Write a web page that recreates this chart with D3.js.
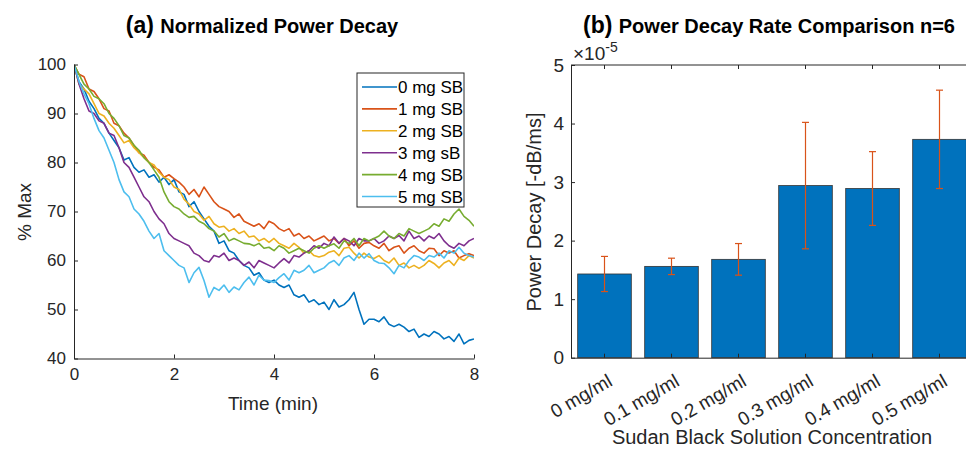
<!DOCTYPE html>
<html lang="en">
  <head>
    <meta charset="utf-8">
    <title>Power decay</title>
    <script src="https://cdn.jsdelivr.net/npm/d3@7"></script>
    <style>
      body { margin: 0; background: #fff; }
      svg { font-family: "Liberation Sans", Arial, sans-serif; }
      .axis path, .axis line { stroke: #262626; }
      .axis text { fill: #262626; }
    </style>
  </head>
  <body>
    <script>

      // ---- panel (a) data: % of max, one sample every 0.1 min
      var times = d3.range(81).map(function(i) { return i / 10; });
      var seriesNames = ["0 mg SB", "1 mg SB", "2 mg SB", "3 mg sB", "4 mg SB", "5 mg SB"];
      var seriesColors = ["#0072BD", "#D95319", "#EDB120", "#7E2F8E", "#77AC30", "#4DBEEE"];

      var sb0 = [100, 96.5, 95, 92.5, 91, 89, 88, 86, 84.5, 83,
                 80.5, 81, 79, 78, 78.5, 77, 77.5, 76, 77, 75.5,
                 76.5, 74, 73.5, 71, 72, 70, 68.5, 67, 66, 63.5,
                 64, 62, 61.5, 60, 59, 58.5, 57, 57.5, 56, 55.5,
                 56, 55, 54.5, 55, 53, 52.5, 53, 51.5, 52, 51,
                 51.5, 50, 52, 50.5, 51, 52, 53.5, 50, 47, 48,
                 48, 47.5, 48.5, 47, 46.5, 47, 46.4, 45.5, 46, 44.3,
                 45, 44.5, 45.5, 45, 44, 44.5, 43.5, 45, 43, 43.7,
                 44];
      var sb1 = [100, 98, 97.5, 95, 94.5, 93, 91, 90.5, 88, 87.5,
                 86, 85, 83.5, 82, 81.5, 80, 79, 78.5, 77, 77.5,
                 76.7, 76, 75, 73.5, 74.5, 73, 75, 73.5, 72, 71,
                 70.5, 70, 68.8, 69.5, 68, 67.5, 67, 67.5, 66.5, 68,
                 67.5, 66.5, 66, 66.5, 65, 65.5, 64.5, 65, 64, 64.5,
                 65, 64, 64.5, 63.5, 64.5, 63, 64, 62.5, 63.5, 63.7,
                 63, 62.5, 63.5, 62, 62.7, 63, 61.5, 62.5, 63, 62,
                 61.5, 62.5, 62.4, 61, 62, 61.5, 62, 60.5, 61, 61.4,
                 61];
      var sb2 = [100, 96, 95, 94, 92, 90, 89.5, 88, 87, 85.5,
                 84, 84.5, 83, 82, 81, 80, 79.5, 78, 77, 76.5,
                 75, 74.5, 72.5, 71.5, 70, 69.5, 68.2, 69, 67.5, 66.8,
                 67, 66, 66.5, 65.5, 66, 64.8, 65, 64, 64.5, 63.7,
                 64.5, 63.5, 63, 62.5, 63.5, 62.7, 61.5, 62, 61, 60.7,
                 61, 61.7, 62, 61, 62.5, 62.7, 61.5, 60.5, 61.5, 60.7,
                 60.4, 61, 60, 59.5, 60.5, 59, 59.5, 58.5, 59, 58.4,
                 59, 60, 59.4, 58.5, 59.5, 60, 59, 60.5, 60, 61,
                 60.5];
      var sb3 = [100, 96, 93, 90.5, 90, 88.5, 88, 86, 85.5, 83,
                 80, 79, 77, 75, 73, 72, 70, 68.5, 67.5, 65.5,
                 64.5, 64, 63.5, 63, 61.5, 61, 60, 59.7, 61, 60.7,
                 61.5, 60, 60.5, 60, 59, 59.7, 58.5, 60, 59.5, 59,
                 58.5, 59.5, 60.4, 59.5, 61, 60.7, 61.5, 62, 63, 62.5,
                 63.5, 63, 64.8, 63.5, 64.5, 64, 63, 64.5, 64, 64,
                 64.5, 63.5, 64, 65, 64.5, 65.1, 64, 66, 64.5, 65,
                 64, 65, 64.5, 65.5, 64, 63, 62.5, 63.5, 63, 64,
                 64.5];
      var sb4 = [100, 98, 96, 95, 93.5, 93, 92, 90, 89, 87.5,
                 85.5, 85, 83.5, 82.5, 81, 80, 78.5, 77, 74, 72,
                 71, 70.5, 69.5, 68.8, 69, 68, 67.5, 66.5, 66, 64.8,
                 65.5, 64, 64.5, 64, 63.5, 63.4, 63, 63.5, 62.5, 62.7,
                 62, 63, 62.5, 61.5, 62, 62.5, 62, 61.5, 62.5, 63,
                 62.5, 63, 63.4, 62.5, 64, 63.5, 64.5, 63, 64.5, 64,
                 64.5, 65, 66, 65, 64.5, 65.5, 65, 66.5, 66, 65.5,
                 66, 66.5, 67.5, 67, 68.5, 68, 69.5, 70.5, 69, 68.2,
                 67];
      var sb5 = [100, 96.5, 94, 92, 89, 86.5, 85, 82.5, 80, 76.5,
                 74, 73, 70.5, 69.5, 68, 66, 64.5, 65.5, 62, 61,
                 60, 59, 58.5, 55.5, 57.5, 58.6, 55.9, 52.5, 54.5, 53.9,
                 55, 53.5, 54.6, 54, 55.5, 56.6, 55, 57, 56, 55.9,
                 55.5, 56.5, 57.3, 56, 58, 57.5, 58, 59, 57.5, 58,
                 58.5, 59.5, 60, 59, 60.5, 61, 60, 61.5, 60.5, 61.4,
                 60, 59.5, 59.4, 58.5, 57.3, 59, 58.5, 60, 61, 60.7,
                 60, 61, 60.7, 61.5, 60.5, 62, 61.5, 62.7, 61.5, 61,
                 60.7];
      var seriesValues = [sb0, sb1, sb2, sb3, sb4, sb5];

      var timeTicks = [0, 2, 4, 6, 8];
      var pctTicks = [40, 50, 60, 70, 80, 90, 100];

      // ---- panel (b) data: decay rate (x1e-5 dB/ms) with error half-widths
      var concentrations = ["0 mg/ml", "0.1 mg/ml", "0.2 mg/ml", "0.3 mg/ml", "0.4 mg/ml", "0.5 mg/ml"];
      var decayRate = [1.43, 1.56, 1.68, 2.94, 2.89, 3.73];
      var decayErr = [0.30, 0.14, 0.27, 1.08, 0.63, 0.84];
      var rateTicks = [0, 1, 2, 3, 4, 5];

      var fontStack = "'Liberation Sans', Arial, sans-serif";
      var w = 966, h = 451;
      var svg = d3.select("body").append("svg")
                  .attr("width", w)
                  .attr("height", h);

      // ================= panel (a) =================
      var ax = { left: 74, right: 474, top: 64.5, bottom: 358.5 };

      var xScale = d3.scaleLinear().domain([0, 8]).range([ax.left, ax.right]);
      var yScale = d3.scaleLinear().domain([40, 100]).range([ax.bottom, ax.top]);

      svg.append("defs").append("clipPath").attr("id", "clipA")
         .append("rect")
         .attr("x", ax.left).attr("y", ax.top)
         .attr("width", ax.right - ax.left).attr("height", ax.bottom - ax.top);

      var line = d3.line()
                   .x(function(d, i) { return xScale(times[i]); })
                   .y(function(d) { return yScale(d); });

      var gLines = svg.append("g").attr("clip-path", "url(#clipA)");
      seriesValues.forEach(function(vals, k) {
        gLines.append("path")
              .datum(vals)
              .attr("fill", "none")
              .attr("stroke", seriesColors[k])
              .attr("stroke-width", 1.6)
              .attr("stroke-linejoin", "round")
              .attr("d", line);
      });

      //X axis (ticks pointing inward, MATLAB style)
      svg.append("g")
         .attr("class", "axis")
         .attr("transform", "translate(0," + ax.bottom + ")")
         .call(d3.axisBottom(xScale).tickValues(timeTicks).tickSizeInner(-4).tickSizeOuter(0).tickPadding(9))
         .attr("font-family", fontStack)
         .attr("font-size", 17);

      //Y axis
      svg.append("g")
         .attr("class", "axis")
         .attr("transform", "translate(" + ax.left + ",0)")
         .call(d3.axisLeft(yScale).tickValues(pctTicks).tickSizeInner(-4).tickSizeOuter(0).tickPadding(8))
         .attr("font-family", fontStack)
         .attr("font-size", 17);

      svg.append("text")
         .attr("x", 273).attr("y", 410)
         .attr("text-anchor", "middle")
         .attr("font-size", 19)
         .attr("fill", "#262626")
         .text("Time (min)");

      svg.append("text")
         .attr("transform", "translate(31,212) rotate(-90)")
         .attr("text-anchor", "middle")
         .attr("font-size", 19)
         .attr("fill", "#262626")
         .text("% Max");

      var titleA = svg.append("text")
         .attr("x", 262).attr("y", 33)
         .attr("text-anchor", "middle")
         .attr("font-weight", "bold")
         .attr("fill", "#000");
      titleA.append("tspan").attr("font-size", 23).text("(a) ");
      titleA.append("tspan").attr("font-size", 20).text("Normalized Power Decay");

      //Legend
      var legend = svg.append("g").attr("transform", "translate(357,73)");
      legend.append("rect")
            .attr("width", 107).attr("height", 134)
            .attr("fill", "#fff")
            .attr("stroke", "#262626")
            .attr("stroke-width", 1);
      seriesNames.forEach(function(name, k) {
        var yy = 14 + k * 21.9;
        legend.append("line")
              .attr("x1", 5).attr("x2", 40)
              .attr("y1", yy).attr("y2", yy)
              .attr("stroke", seriesColors[k])
              .attr("stroke-width", 1.6);
        legend.append("text")
              .attr("x", 41).attr("y", yy + 6)
              .attr("font-size", 17)
              .attr("fill", "#000")
              .text(name);
      });

      // ================= panel (b) =================
      var bx = { left: 571, right: 973, top: 65, bottom: 357.7 };

      var xBand = d3.scaleBand()
                    .domain(concentrations)
                    .range([bx.left, bx.right])
                    .paddingInner(0.2)
                    .paddingOuter(0.1);
      var yRate = d3.scaleLinear().domain([0, 5]).range([bx.bottom, bx.top]);

      svg.selectAll("rect.bar")
         .data(decayRate)
         .enter()
         .append("rect")
         .attr("class", "bar")
         .attr("x", function(d, i) { return xBand(concentrations[i]); })
         .attr("width", xBand.bandwidth())
         .attr("y", function(d) { return yRate(d); })
         .attr("height", function(d) { return bx.bottom - yRate(d); })
         .attr("fill", "#0072BD")
         .attr("stroke", "#333")
         .attr("stroke-width", 0.8);

      var cx = function(i) { return xBand(concentrations[i]) + xBand.bandwidth() / 2; };

      //Box: top line with ticks
      svg.append("line")
         .attr("x1", bx.left).attr("x2", bx.right)
         .attr("y1", bx.top).attr("y2", bx.top)
         .attr("stroke", "#262626");

      //X axis
      var xAxisB = svg.append("g")
         .attr("class", "axis")
         .attr("transform", "translate(0," + bx.bottom + ")")
         .call(d3.axisBottom(xBand).tickSizeInner(-4).tickSizeOuter(0))
         .attr("font-family", fontStack)
         .attr("font-size", 19);
      xAxisB.selectAll("text")
            .attr("text-anchor", "end")
            .attr("transform", "translate(1,13) rotate(-30)")
            .attr("dy", "0.7em");

      svg.append("g")
         .attr("class", "axis")
         .attr("transform", "translate(0," + bx.top + ")")
         .call(d3.axisTop(xBand).tickSizeInner(-4).tickSizeOuter(0).tickFormat(""))
         .select(".domain").remove();

      //Y axis
      svg.append("g")
         .attr("class", "axis")
         .attr("transform", "translate(" + bx.left + ",0)")
         .call(d3.axisLeft(yRate).tickValues(rateTicks).tickFormat(d3.format("d")).tickSizeInner(-4).tickSizeOuter(0).tickPadding(7))
         .attr("font-family", fontStack)
         .attr("font-size", 19);

      //Error bars
      var eb = svg.append("g").attr("stroke", "#D95319").attr("stroke-width", 1.2);
      decayRate.forEach(function(v, i) {
        var x0 = cx(i);
        var lo = yRate(v - decayErr[i]), hi = yRate(v + decayErr[i]);
        eb.append("line").attr("x1", x0).attr("x2", x0).attr("y1", lo).attr("y2", hi);
        eb.append("line").attr("x1", x0 - 3.5).attr("x2", x0 + 3.5).attr("y1", lo).attr("y2", lo);
        eb.append("line").attr("x1", x0 - 3.5).attr("x2", x0 + 3.5).attr("y1", hi).attr("y2", hi);
      });

      //exponent
      var expo = svg.append("text")
         .attr("x", 573).attr("y", 60)
         .attr("font-size", 19)
         .attr("fill", "#262626");
      expo.append("tspan").text("\u00d710");
      expo.append("tspan").attr("font-size", 14).attr("dy", -8).text("-5");

      svg.append("text")
         .attr("transform", "translate(541,212) rotate(-90)")
         .attr("text-anchor", "middle")
         .attr("font-size", 20)
         .attr("fill", "#262626")
         .text("Power Decay [-dB/ms]");

      svg.append("text")
         .attr("x", 772).attr("y", 444)
         .attr("text-anchor", "middle")
         .attr("font-size", 20)
         .attr("fill", "#262626")
         .text("Sudan Black Solution Concentration");

      var titleB = svg.append("text")
         .attr("x", 769).attr("y", 33)
         .attr("text-anchor", "middle")
         .attr("font-weight", "bold")
         .attr("fill", "#000");
      titleB.append("tspan").attr("font-size", 23).text("(b) ");
      titleB.append("tspan").attr("font-size", 20).text("Power Decay Rate Comparison n=6");

    </script>
  </body>
</html>
